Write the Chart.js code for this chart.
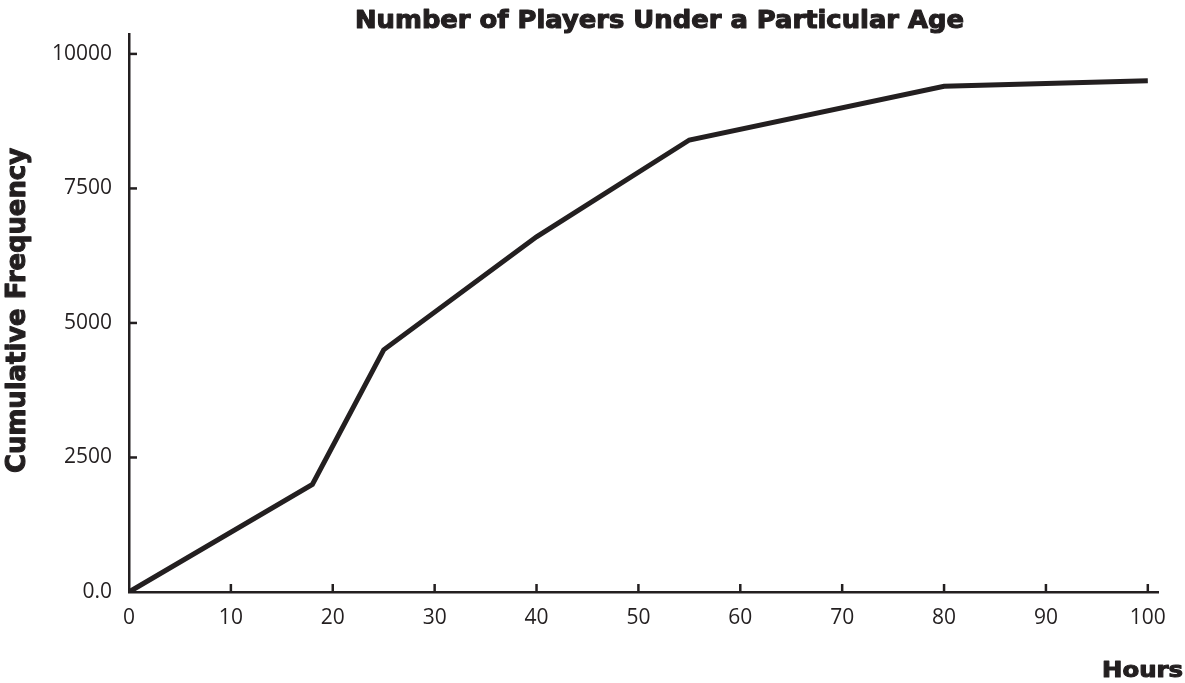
<!DOCTYPE html>
<html>
<head>
<meta charset="utf-8">
<script src="https://cdn.jsdelivr.net/npm/chart.js@4.4.1/dist/chart.umd.min.js"></script>
<style>
  html, body { margin: 0; padding: 0; background: #ffffff; }
  #wrap { width: 1185px; height: 683px; }
</style>
</head>
<body>
<div id="wrap"><canvas id="c" width="1185" height="683"></canvas></div>
<script>
const hours = [0, 18, 25, 40, 55, 80, 100];
const cumulativeFrequency = [0, 2000, 4500, 6600, 8400, 9400, 9500];
const xTickValues = [0, 10, 20, 30, 40, 50, 60, 70, 80, 90, 100];
const yTickValues = [0, 2500, 5000, 7500, 10000];

const chartTitle = 'Number of Players Under a Particular Age';
const xTitle = 'Hours';
const yTitle = 'Cumulative Frequency';

const INK = '#231f20';
const TICK_FONT = { family: '"Open Sans", "Noto Sans", sans-serif', size: 21 };
const HEAVY_FAMILY = '"DejaVu Sans", "Liberation Sans", Arial, sans-serif';

const points = hours.map((h, i) => ({ x: h, y: cumulativeFrequency[i] }));

// draw heavy text fitted to a target width (left-anchored at x, alphabetic baseline at y)
function fitText(ctx, text, size, x, y, width) {
  ctx.font = 'bold ' + size + 'px ' + HEAVY_FAMILY;
  const w = ctx.measureText(text).width;
  ctx.save();
  ctx.translate(x, y);
  ctx.scale(width / w, 1);
  ctx.textAlign = 'left';
  ctx.textBaseline = 'alphabetic';
  ctx.lineWidth = 1.1;
  ctx.lineJoin = 'round';
  ctx.strokeStyle = INK;
  ctx.fillText(text, 0, 0);
  ctx.strokeText(text, 0, 0);
  ctx.restore();
}

const decorPlugin = {
  id: 'decor',
  afterDraw(chart) {
    const ctx = chart.ctx;
    const xs = chart.scales.x, ys = chart.scales.y;
    ctx.save();
    ctx.strokeStyle = INK;
    ctx.lineWidth = 2.5;
    const tl = 8;
    xTickValues.forEach(v => {
      if (v === 0) return;
      const px = xs.getPixelForValue(v);
      ctx.beginPath();
      ctx.moveTo(px, ys.bottom);
      ctx.lineTo(px, ys.bottom - tl);
      ctx.stroke();
    });
    yTickValues.forEach(v => {
      if (v === 0) return;
      const py = ys.getPixelForValue(v);
      ctx.beginPath();
      ctx.moveTo(xs.left, py);
      ctx.lineTo(xs.left + tl, py);
      ctx.stroke();
    });
    ctx.fillStyle = INK;
    fitText(ctx, chartTitle, 24, 355, 28, 609);
    fitText(ctx, xTitle, 22, 1102, 677, 81);
    ctx.save();
    ctx.translate(25, 473);
    ctx.rotate(-Math.PI / 2);
    fitText(ctx, yTitle, 27, 0, 0, 325);
    ctx.restore();
    ctx.restore();
  }
};

new Chart(document.getElementById('c'), {
  type: 'line',
  data: {
    datasets: [{
      data: points,
      borderColor: INK,
      borderWidth: 5,
      pointRadius: 0,
      tension: 0,
      fill: false,
      borderJoinStyle: 'miter',
      borderCapStyle: 'butt'
    }]
  },
  options: {
    responsive: false,
    animation: false,
    devicePixelRatio: 1,
    layout: { padding: { top: 34, right: 27, left: 0, bottom: 0 } },
    plugins: { legend: { display: false }, title: { display: false }, tooltip: { enabled: false } },
    scales: {
      x: {
        type: 'linear',
        min: 0,
        max: 101,
        afterBuildTicks: s => { s.ticks = xTickValues.map(v => ({ value: v })); },
        afterFit: s => { s.height = 91; },
        grid: { display: true, drawOnChartArea: false, drawTicks: false },
        border: { display: true, color: INK, width: 2.5 },
        ticks: { color: INK, font: TICK_FONT, padding: 13, maxRotation: 0, autoSkip: false,
                 callback: v => String(v) }
      },
      y: {
        type: 'linear',
        min: 0,
        max: 10370,
        afterBuildTicks: s => { s.ticks = yTickValues.map(v => ({ value: v })); },
        afterFit: s => { s.width = 129; },
        grid: { display: true, drawOnChartArea: false, drawTicks: false },
        border: { display: true, color: INK, width: 2.5 },
        ticks: { color: INK, font: TICK_FONT, padding: 17, autoSkip: false,
                 callback: v => v === 0 ? '0.0' : String(v) }
      }
    }
  },
  plugins: [decorPlugin]
});
</script>
</body>
</html>
